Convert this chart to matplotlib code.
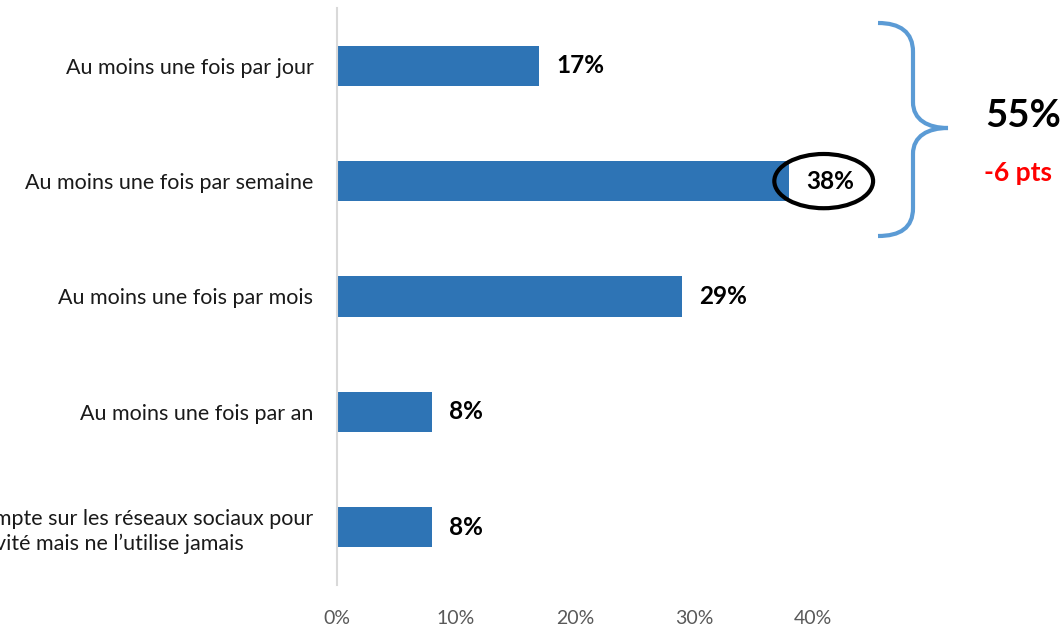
import matplotlib
matplotlib.use("Agg")
import matplotlib.pyplot as plt
from matplotlib.path import Path
from matplotlib.patches import PathPatch, Ellipse

plt.rcParams['font.family'] = ['Lato', 'DejaVu Sans']

categories = [
    "Au moins une fois par jour",
    "Au moins une fois par semaine",
    "Au moins une fois par mois",
    "Au moins une fois par an",
    "A un compte sur les réseaux sociaux pour\nson activité mais ne l\u2019utilise jamais",
]
values = [17, 38, 29, 8, 8]
xticks = [0, 10, 20, 30, 40]
xtick_labels = ["0%", "10%", "20%", "30%", "40%"]
total_label = "55%"
delta_label = "-6 pts"
highlight_index = 1

W, H = 1064, 627
fig = plt.figure(figsize=(W / 100, H / 100), dpi=100)
fig.patch.set_facecolor('white')

ax_left, ax_right, ax_top, ax_bottom = 337, 337 + 50 * 11.9, 8, 585
ax = fig.add_axes([ax_left / W, 1 - ax_bottom / H, (ax_right - ax_left) / W, (ax_bottom - ax_top) / H])

ypos = list(range(len(categories)))
bar_color = '#2E74B5'
ax.barh(ypos, values, height=0.35, color=bar_color, zorder=2)
ax.set_ylim(len(categories) - 0.5, -0.5)
ax.set_xlim(0, 50)

ax.set_yticks(ypos)
ax.set_yticklabels(categories, fontsize=15.5, color='#1a1a1a')
for lbl in ax.get_yticklabels():
    lbl.set_multialignment('left')
    lbl.set_linespacing(1.25)
ax.set_xticks(xticks)
ax.set_xticklabels(xtick_labels, fontsize=14, color='#595959')
ax.tick_params(axis='both', length=0)
ax.tick_params(axis='y', pad=17)
ax.tick_params(axis='x', pad=18)

for s in ['top', 'right', 'bottom']:
    ax.spines[s].set_visible(False)
ax.spines['left'].set_color('#d9d9d9')
ax.spines['left'].set_linewidth(1.5)

for y, v in zip(ypos, values):
    ax.annotate(f"{v}%", xy=(v, y), xytext=(12, 0), textcoords='offset points',
                ha='left', va='center', fontsize=17.5, fontweight='bold', color='black')

# Ellipse around highlighted label
hv = values[highlight_index]
ell = Ellipse((hv + 2.9, highlight_index), width=8.3, height=0.47, fill=False,
              edgecolor='black', linewidth=3, zorder=3)
ax.add_patch(ell)

# Curly brace (figure pixel coords -> fraction)
def P(x, y):
    return (x / W, 1 - y / H)

verts = [
    P(878, 23), P(900, 23), P(913, 32), P(913, 52),
    P(913, 102),
    P(913, 120), P(928, 128), P(948, 128),
    P(928, 128), P(913, 136), P(913, 154),
    P(913, 208),
    P(913, 228), P(900, 236), P(878, 236),
]
codes = [Path.MOVETO, Path.CURVE4, Path.CURVE4, Path.CURVE4,
         Path.LINETO,
         Path.CURVE4, Path.CURVE4, Path.CURVE4,
         Path.CURVE4, Path.CURVE4, Path.CURVE4,
         Path.LINETO,
         Path.CURVE4, Path.CURVE4, Path.CURVE4]
brace = PathPatch(Path(verts, codes), transform=fig.transFigure, fill=False,
                  edgecolor='#5B9BD5', linewidth=3, capstyle='butt')
fig.patches.append(brace)

fig.text(1023 / W, 1 - 116 / H, total_label, ha='center', va='center',
         fontsize=27.5, fontweight='bold', color='black')
fig.text(1018 / W, 1 - 173 / H, delta_label, ha='center', va='center',
         fontsize=19, fontweight='bold', color='#FF0000')

fig.savefig("out.png", dpi=100)
